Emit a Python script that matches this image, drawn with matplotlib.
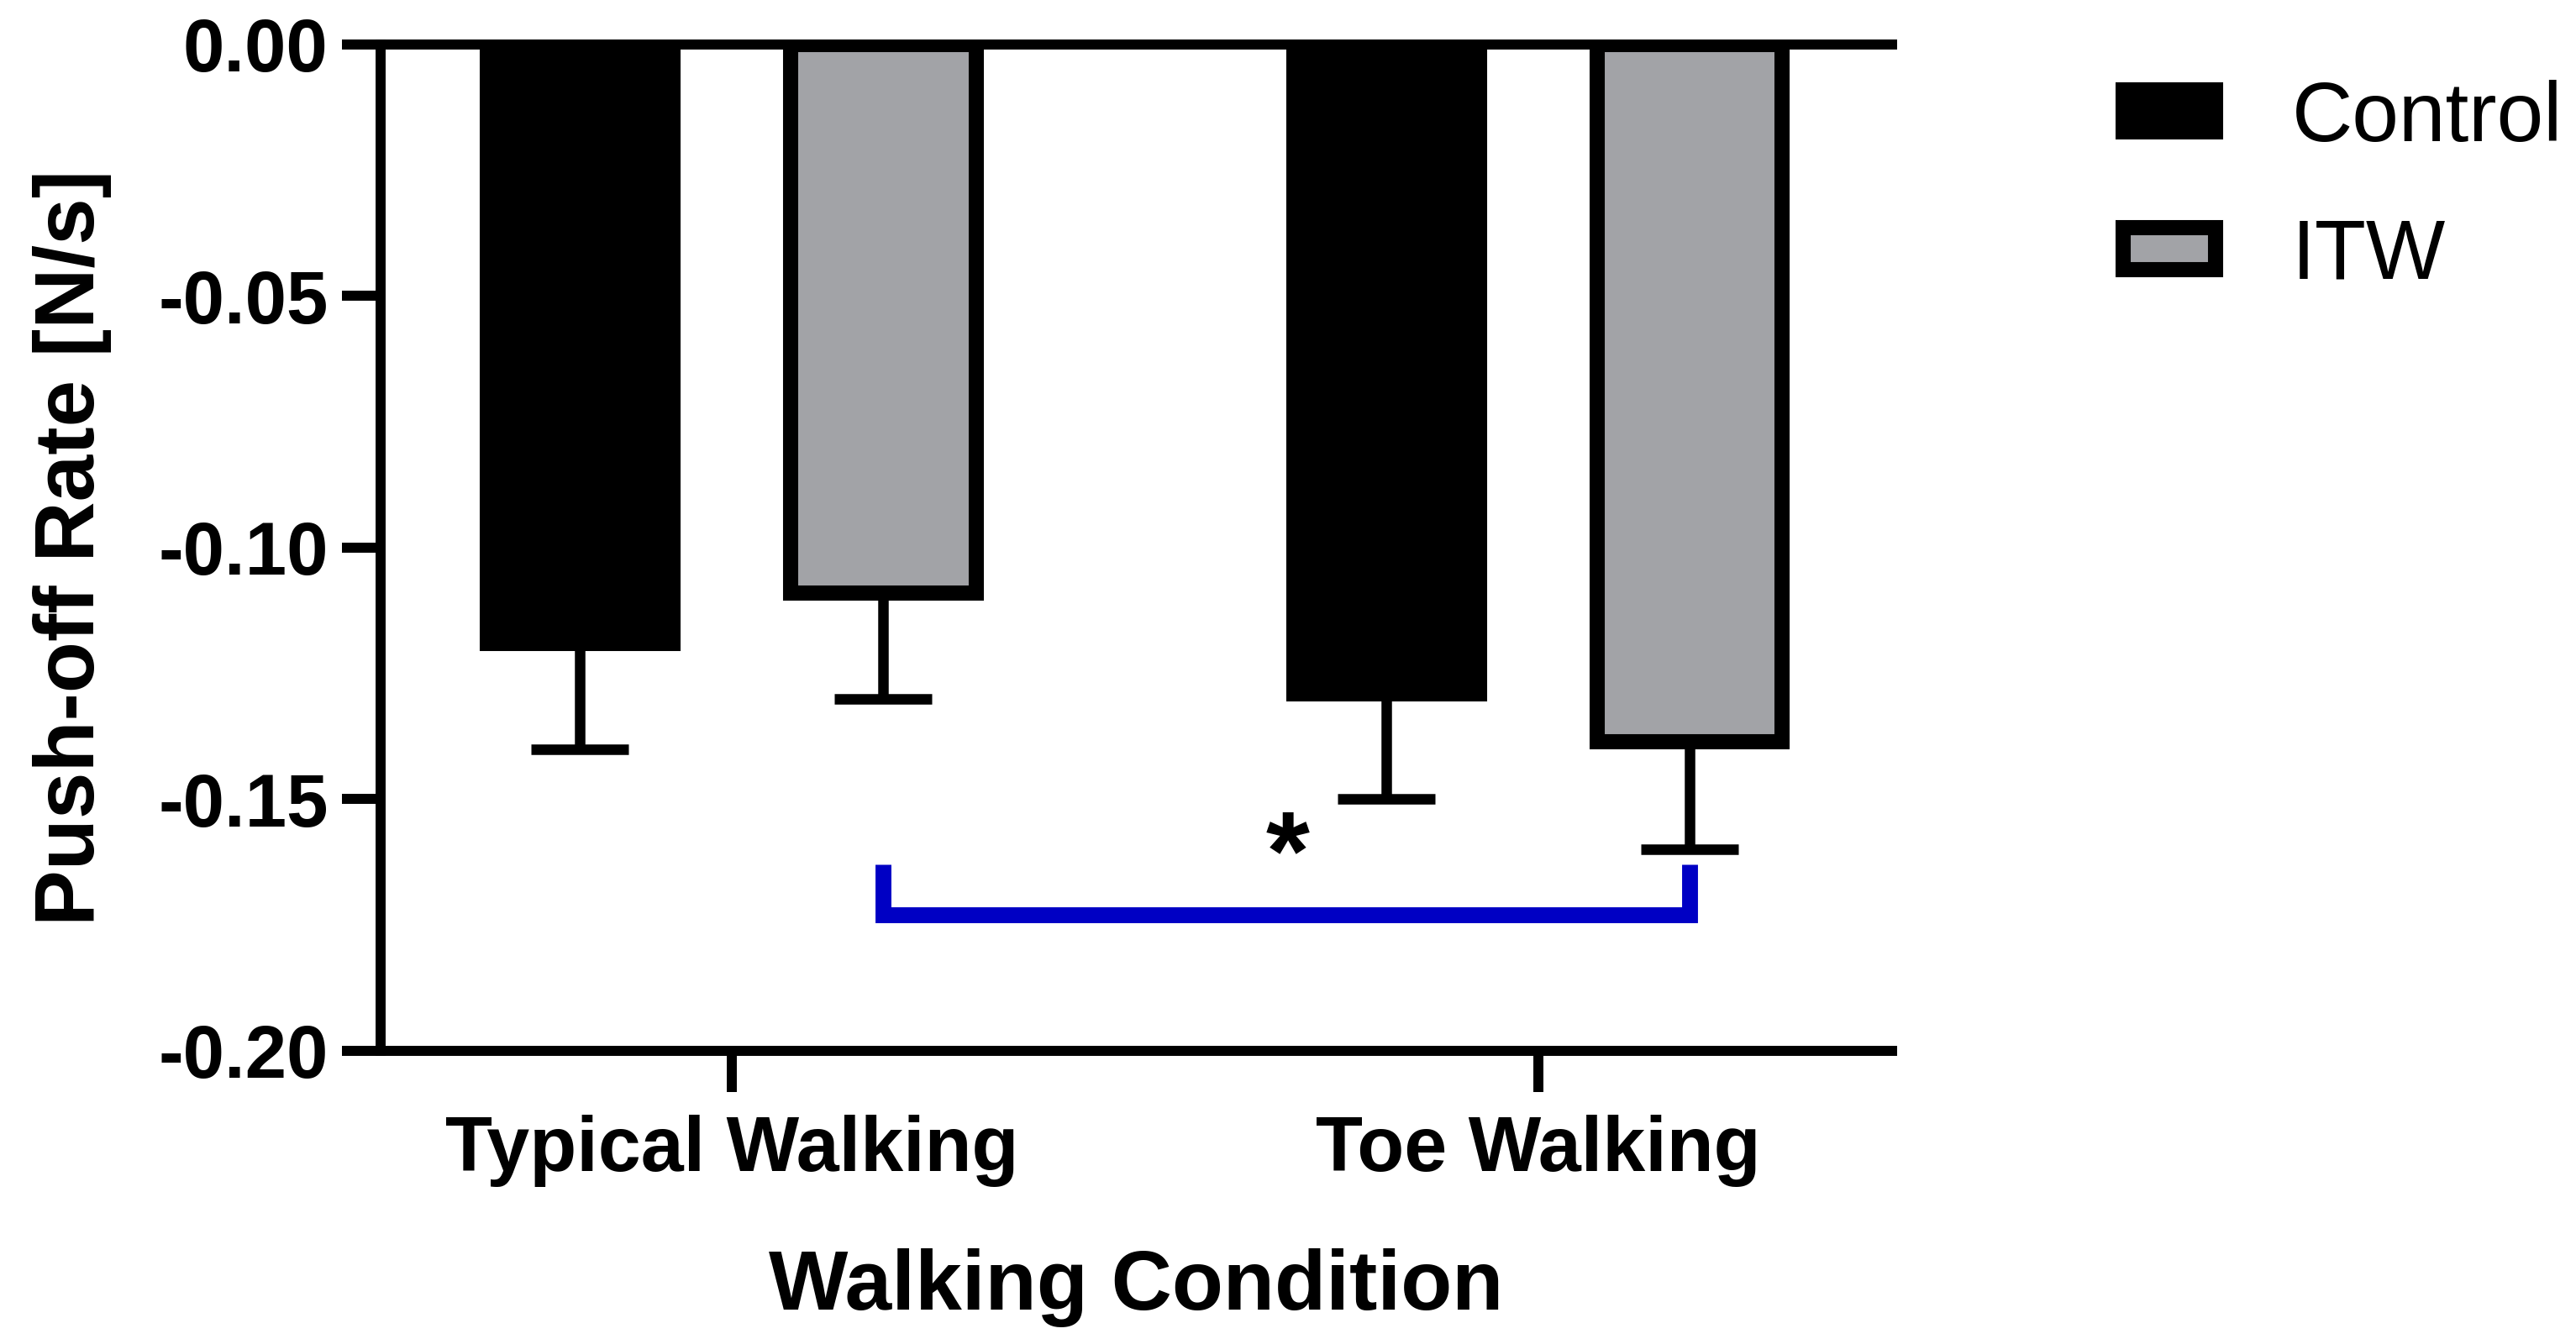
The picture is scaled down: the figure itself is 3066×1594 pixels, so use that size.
import matplotlib
matplotlib.use("Agg")
import matplotlib.pyplot as plt
import numpy as np
from matplotlib.patches import Patch

plt.rcParams['font.family'] = ['Liberation Sans', 'DejaVu Sans']

# data
conditions = ["Typical Walking", "Toe Walking"]
groups = ["Control", "ITW"]
control_mean = [-0.119, -0.129]
control_err = [0.021, 0.021]
itw_mean = [-0.109, -0.1385]
itw_err = [0.021, 0.0215]
bracket_y = -0.173
bracket_tip = -0.163
star_pos = (0.69, -0.162)

gray = "#a2a3a7"
blue = "#0000c4"

fig = plt.figure(figsize=(15.33, 7.97), dpi=200)
ax = fig.add_axes([0.1478, 0.2152, 0.5867, 0.7516])

x = np.arange(len(conditions))
off = 0.188
w = 0.23
lw_edge = 6.5

ax.bar(x - off, control_mean, w, color="black", edgecolor="black", linewidth=lw_edge, zorder=3)
ax.bar(x + off, itw_mean, w, color=gray, edgecolor="black", linewidth=lw_edge, zorder=3)

ax.errorbar(x - off, control_mean, yerr=[control_err, [0, 0]], fmt="none",
            ecolor="black", elinewidth=4.5, capsize=21, capthick=4.5, zorder=2)
ax.errorbar(x + off, itw_mean, yerr=[itw_err, [0, 0]], fmt="none",
            ecolor="black", elinewidth=4.5, capsize=21, capthick=4.5, zorder=2)

# significance bracket between ITW bars
bx = [x[0] + off, x[0] + off, x[1] + off, x[1] + off]
by = [bracket_tip, bracket_y, bracket_y, bracket_tip]
ax.plot(bx, by, color=blue, linewidth=6.8, solid_joinstyle="miter", solid_capstyle="butt", zorder=4)
ax.text(star_pos[0], star_pos[1], "*", fontsize=48, fontweight="bold", ha="center", va="center")

ax.set_xlim(-0.435, 1.439)
ax.set_ylim(-0.20, 0.0)
ax.set_yticks([0.0, -0.05, -0.10, -0.15, -0.20])
ax.set_yticklabels(["0.00", "-0.05", "-0.10", "-0.15", "-0.20"])
ax.set_xticks(x)
ax.set_xticklabels(conditions)

for s in ["left", "top", "bottom"]:
    ax.spines[s].set_linewidth(4.3)
ax.spines["right"].set_visible(False)

ax.tick_params(axis="y", length=16.5, width=4.3, pad=6, labelsize=32)
ax.tick_params(axis="x", length=17.5, width=4.3, pad=10, labelsize=33)
for lab in ax.get_xticklabels() + ax.get_yticklabels():
    lab.set_fontweight("bold")

ax.set_ylabel("Push-off Rate [N/s]", fontsize=36, fontweight="bold", labelpad=20)
ax.set_xlabel("Walking Condition", fontsize=36, fontweight="bold", labelpad=26)

handles = [Patch(facecolor="black", edgecolor="black", linewidth=lw_edge),
           Patch(facecolor=gray, edgecolor="black", linewidth=lw_edge)]
fig.legend(handles, groups, loc="upper left", bbox_to_anchor=(0.795, 0.997),
           frameon=False, fontsize=36, handlelength=1.1, handleheight=0.4,
           handletextpad=0.9, labelspacing=0.7)

plt.savefig("out.png", dpi=200)
plt.close()
